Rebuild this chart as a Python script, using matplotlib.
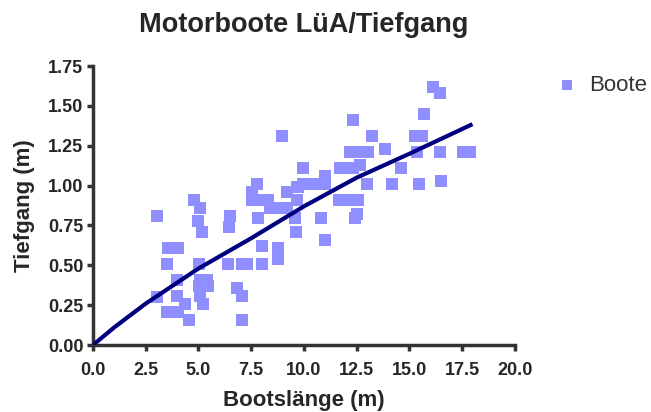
import numpy as np
import matplotlib
matplotlib.use('Agg')
import matplotlib.pyplot as plt

# Bootslänge (m) / Tiefgang (m)
laenge = [3.05, 3.05, 3.52, 3.49, 3.57, 4.04, 4.04, 3.97, 3.97, 4.36, 4.56,
          4.79, 5.07, 4.99, 5.18, 5.04, 5.07, 5.39, 5.47, 5.04, 5.07, 5.23,
          6.49, 6.46, 6.38, 6.81, 7.05, 7.05, 7.28, 7.05,
          7.52, 7.52, 7.79, 7.83, 7.91, 8.0, 8.0, 8.31, 8.39, 8.78, 8.78, 8.78,
          8.97, 9.18, 9.18, 9.57, 9.6, 9.65, 9.65, 9.73, 9.97, 9.97,
          10.05, 10.37, 10.52, 10.76, 10.8, 11.0, 11.0, 11.0,
          11.67, 11.7, 11.79, 12.18, 12.18, 12.26, 12.34, 12.34, 12.42, 12.5,
          12.57, 12.57, 12.65, 12.97, 13.05, 13.21, 13.84, 14.16, 14.58,
          15.26, 15.37, 15.47, 15.58, 15.69, 16.13, 16.45, 16.45, 16.49,
          17.55, 17.87]
tiefgang = [0.81, 0.30, 0.51, 0.21, 0.61, 0.61, 0.21, 0.41, 0.31, 0.26, 0.16,
            0.91, 0.86, 0.78, 0.71, 0.51, 0.41, 0.41, 0.37, 0.37, 0.31, 0.26,
            0.81, 0.74, 0.51, 0.36, 0.51, 0.31, 0.51, 0.16,
            0.96, 0.91, 1.01, 0.80, 0.91, 0.62, 0.51, 0.91, 0.86, 0.86, 0.61, 0.54,
            1.31, 0.86, 0.96, 0.80, 0.71, 0.99, 0.91, 0.99, 1.11, 1.01,
            1.01, 1.01, 1.01, 1.01, 0.80, 1.06, 1.01, 0.66,
            0.91, 1.11, 1.11, 1.21, 0.91, 1.21, 1.41, 1.11, 0.80, 0.82,
            1.21, 0.91, 1.13, 1.01, 1.21, 1.31, 1.23, 1.01, 1.11,
            1.31, 1.21, 1.01, 1.31, 1.45, 1.62, 1.58, 1.21, 1.03,
            1.21, 1.21]

# fitted curve, points
fit_x = [0, 1, 2.5, 5, 7.5, 10, 12.5, 15, 17.9]
fit_y = [0, 0.11, 0.26, 0.48, 0.67, 0.87, 1.05, 1.20, 1.38]

plt.rcParams['font.family'] = ['Liberation Sans', 'DejaVu Sans']
dark = '#333333'
txt = '#262626'

fig = plt.figure(figsize=(6.51, 4.12), dpi=100)
ax = fig.add_axes([0.1429, 0.1626, 0.648, 0.677])

pts = ax.scatter(laenge, tiefgang, marker='s', s=64, color='#8f8fff',
                 linewidths=0, zorder=2, label='Boote', clip_on=False)
ax.plot(fit_x, fit_y, color='#00007f', lw=3, zorder=3)

ax.set_xlim(0, 20)
ax.set_ylim(0, 1.75)
ax.set_xticks(np.arange(0, 20.1, 2.5))
ax.set_yticks(np.arange(0, 1.76, 0.25))
ax.set_xticklabels([f'{v:.1f}' for v in np.arange(0, 20.1, 2.5)])
ax.set_yticklabels([f'{v:.2f}' for v in np.arange(0, 1.76, 0.25)])

for s in ['top', 'right']:
    ax.spines[s].set_visible(False)
for s in ['left', 'bottom']:
    ax.spines[s].set_linewidth(2.5)
    ax.spines[s].set_color(dark)
ax.tick_params(direction='out', length=4, width=2.5, color=dark,
               labelsize=13, labelcolor=txt, pad=3)
ax.tick_params(axis='x', pad=8)
for lab in ax.get_xticklabels() + ax.get_yticklabels():
    lab.set_fontweight('bold')

ax.set_xlabel('Bootslänge (m)', fontsize=16, fontweight='bold', color=txt, labelpad=8)
ax.set_ylabel('Tiefgang (m)', fontsize=16, fontweight='bold', color=txt, labelpad=9)
fig.suptitle('Motorboote LüA/Tiefgang', x=0.466, y=0.97, fontsize=19.5,
             fontweight='bold', color=txt)

fig.legend(handles=[pts], loc='upper left', bbox_to_anchor=(0.823, 0.867),
           frameon=False, fontsize=16, handlelength=1, handletextpad=0.5,
           markerscale=0.85, labelcolor='#333333')

fig.savefig('out.png', dpi=100)
